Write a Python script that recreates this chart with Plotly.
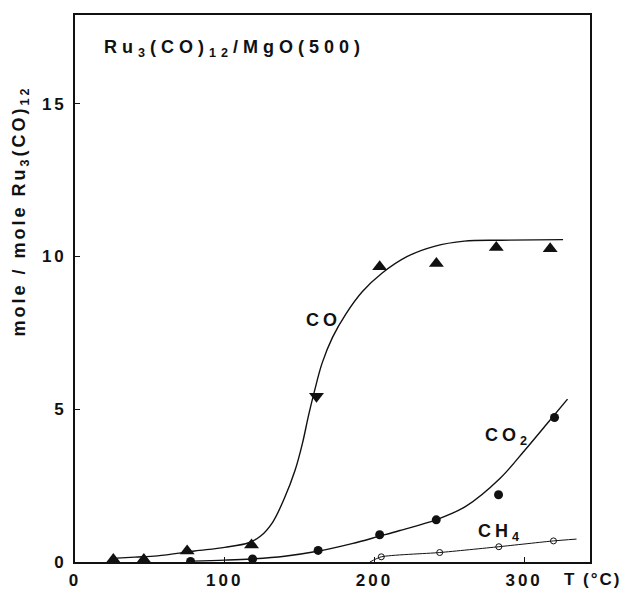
import plotly.graph_objects as go

# ---- data ----
# measured points (T in °C, mole / mole Ru3(CO)12)
co_T = [25.6, 46, 74.9, 117.9, 203.5, 241.4, 281.4, 317.4]
co_val = [0.08, 0.08, 0.36, 0.56, 9.66, 9.77, 10.29, 10.25]
co_down_T = [161.3]
co_down_val = [5.42]
co2_T = [77.2, 118.6, 162.4, 203.5, 241.3, 282.9, 320.3]
co2_val = [0.02, 0.10, 0.38, 0.89, 1.38, 2.20, 4.73]
ch4_T = [204.6, 243.6, 283.1, 319.6]
ch4_val = [0.17, 0.31, 0.50, 0.69]

# hand-drawn trend curves
co_curve_T = [25, 40, 55, 80, 100, 116, 124, 132, 140, 147, 152, 156, 160, 165,
              172, 181, 192, 205, 222, 240, 260, 285, 326]
co_curve_val = [0.12, 0.16, 0.20, 0.36, 0.48, 0.63, 0.85, 1.30, 2.10, 3.00, 3.90,
                4.80, 5.60, 6.50, 7.35, 8.12, 8.85, 9.45, 10.00, 10.33, 10.50,
                10.53, 10.55]
co2_curve_T = [78, 100, 118, 140, 162, 185, 203, 217, 241, 261, 284, 301, 315, 329]
co2_curve_val = [0.03, 0.06, 0.10, 0.19, 0.35, 0.60, 0.84, 1.03, 1.38, 1.82, 2.74,
                 3.69, 4.51, 5.33]
ch4_curve_T = [197, 204.6, 243.6, 283.1, 319.6, 335]
ch4_curve_val = [0.0, 0.17, 0.31, 0.50, 0.69, 0.75]

x_ticks = [0, 100, 200, 300]
x_tick_labels = ["0", "100", "200", "300"]
y_ticks = [0, 5, 10, 15]
y_tick_labels = ["0", "5", "10", "15"]

FONT = "Liberation Sans, Arial, sans-serif"
BLACK = "#111111"


def ls(text, px):
    return f'<span style="letter-spacing:{px}px">{text}</span>'


fig = go.Figure()

# curves
fig.add_trace(go.Scatter(x=co_curve_T, y=co_curve_val, mode="lines",
                         line=dict(color=BLACK, width=1.4, shape="spline", smoothing=1.0),
                         hoverinfo="skip", showlegend=False))
fig.add_trace(go.Scatter(x=co2_curve_T, y=co2_curve_val, mode="lines",
                         line=dict(color=BLACK, width=1.4, shape="spline", smoothing=1.0),
                         hoverinfo="skip", showlegend=False))
fig.add_trace(go.Scatter(x=ch4_curve_T, y=ch4_curve_val, mode="lines",
                         line=dict(color=BLACK, width=1.0, shape="spline", smoothing=0.6),
                         hoverinfo="skip", showlegend=False))

# markers
fig.add_trace(go.Scatter(x=co_T, y=co_val, mode="markers", name="CO",
                         marker=dict(symbol="triangle-up", size=13, color=BLACK),
                         showlegend=False))
fig.add_trace(go.Scatter(x=co_down_T, y=co_down_val, mode="markers", name="CO",
                         marker=dict(symbol="triangle-down", size=13, color=BLACK),
                         showlegend=False))
fig.add_trace(go.Scatter(x=co2_T, y=co2_val, mode="markers", name="CO2",
                         marker=dict(symbol="circle", size=9, color=BLACK),
                         showlegend=False))
fig.add_trace(go.Scatter(x=ch4_T, y=ch4_val, mode="markers", name="CH4",
                         marker=dict(symbol="circle-open", size=6, color=BLACK,
                                     line=dict(width=1, color=BLACK)),
                         showlegend=False))

tick_font = dict(family=FONT, size=17, color=BLACK, weight="bold")

fig.update_xaxes(range=[0, 344], showgrid=False, zeroline=False,
                 showline=True, mirror=True, linecolor=BLACK, linewidth=1.6,
                 ticks="inside", ticklen=5, tickwidth=1.2, tickcolor=BLACK,
                 tickvals=x_ticks, ticktext=[ls(t, 3) for t in x_tick_labels],
                 tickfont=tick_font, ticklabelstandoff=2)
fig.update_yaxes(range=[0, 17.9], showgrid=False, zeroline=False,
                 showline=True, mirror=True, linecolor=BLACK, linewidth=1.6,
                 ticks="inside", ticklen=5, tickwidth=1.2, tickcolor=BLACK,
                 tickvals=y_ticks, ticktext=[ls(t, 3) for t in y_tick_labels],
                 tickfont=tick_font, ticklabelstandoff=3)

ann_font = dict(family=FONT, size=18, color=BLACK, weight="bold")

annotations = [
    dict(x=17.8, y=16.82, xref="x", yref="y", xanchor="left", yanchor="middle",
         text=ls("Ru<sub>3</sub>(CO)<sub>12</sub>/MgO(500)", 5), showarrow=False,
         font=ann_font),
    dict(x=-0.105, y=11.5, xref="paper", yref="y", xanchor="center", yanchor="middle",
         textangle=-90, text=ls("mole / mole Ru<sub>3</sub>(CO)<sub>12</sub>", 3),
         showarrow=False, font=ann_font),
    dict(x=166, y=7.93, xref="x", yref="y", xanchor="center", yanchor="middle",
         text=ls("CO", 4), showarrow=False, font=ann_font),
    dict(x=289, y=4.1, xref="x", yref="y", xanchor="center", yanchor="middle",
         text=ls("CO<sub>2</sub>", 4), showarrow=False, font=ann_font),
    dict(x=284, y=0.95, xref="x", yref="y", xanchor="center", yanchor="middle",
         text=ls("CH<sub>4</sub>", 4), showarrow=False, font=ann_font),
    dict(x=325, y=0, xref="x", yref="paper", xanchor="left", yanchor="top",
         yshift=-6, text=ls("T (°C)", 2), showarrow=False,
         font=dict(family=FONT, size=17, color=BLACK, weight="bold")),
]

fig.update_layout(width=631, height=590,
                  margin=dict(l=75, r=41, t=15, b=28, autoexpand=False),
                  paper_bgcolor="white", plot_bgcolor="white",
                  annotations=annotations)

fig.write_html("out.html",
               config={"displayModeBar": False},
               post_script="document.body.style.margin='0';"
                           "document.body.style.overflow='hidden';")
